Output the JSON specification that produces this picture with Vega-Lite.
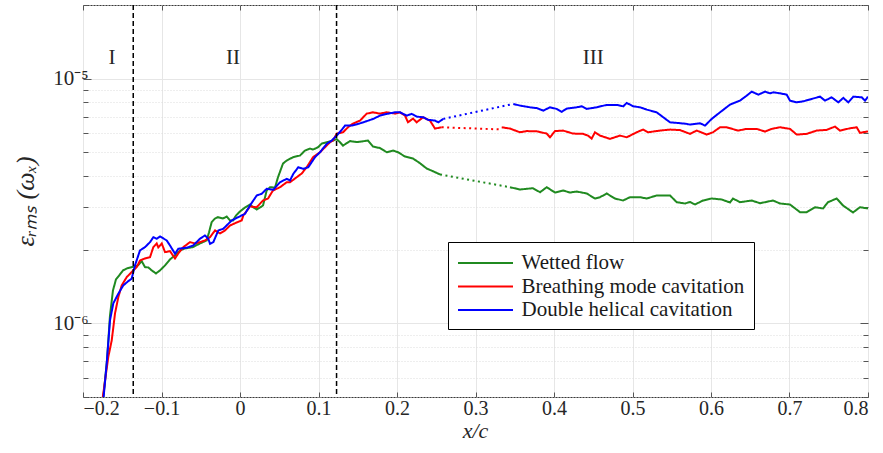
{
  "$schema": "https://vega.github.io/schema/vega-lite/v6.json",
  "width": 785,
  "height": 392,
  "autosize": {"type": "none"},
  "padding": {"left": 83, "top": 5, "right": 15, "bottom": 56},
  "background": "white",
  "config": {
    "font": "Liberation Serif, Times New Roman, Times, serif",
    "view": {"stroke": "#3a3a3a", "strokeWidth": 1},
    "axis": {"labelFont": "Liberation Serif, Times New Roman, Times, serif", "labelFontSize": 20, "labelColor": "#262626", "titleFont": "Liberation Serif, Times New Roman, Times, serif", "titleColor": "#262626", "domain": false, "tickColor": "#555555", "gridColor": "#e3e3e3", "gridWidth": 1},
    "legend": {"labelFont": "Liberation Serif, Times New Roman, Times, serif"},
    "text": {"font": "Liberation Serif, Times New Roman, Times, serif"}
  },
  "datasets": {
    "curves": [
      {"s":"Wetted flow","g":"W1","d":"solid","x":-0.1745,"y":4.85e-7},
      {"s":"Wetted flow","g":"W1","d":"solid","x":-0.1694,"y":7.06e-7},
      {"s":"Wetted flow","g":"W1","d":"solid","x":-0.1656,"y":1.078e-6},
      {"s":"Wetted flow","g":"W1","d":"solid","x":-0.1618,"y":1.364e-6},
      {"s":"Wetted flow","g":"W1","d":"solid","x":-0.158,"y":1.512e-6},
      {"s":"Wetted flow","g":"W1","d":"solid","x":-0.1529,"y":1.585e-6},
      {"s":"Wetted flow","g":"W1","d":"solid","x":-0.149,"y":1.646e-6},
      {"s":"Wetted flow","g":"W1","d":"solid","x":-0.1439,"y":1.677e-6},
      {"s":"Wetted flow","g":"W1","d":"solid","x":-0.1363,"y":1.701e-6},
      {"s":"Wetted flow","g":"W1","d":"solid","x":-0.1299,"y":1.725e-6},
      {"s":"Wetted flow","g":"W1","d":"solid","x":-0.1252,"y":1.796e-6},
      {"s":"Wetted flow","g":"W1","d":"solid","x":-0.121,"y":1.697e-6},
      {"s":"Wetted flow","g":"W1","d":"solid","x":-0.1168,"y":1.692e-6},
      {"s":"Wetted flow","g":"W1","d":"solid","x":-0.1125,"y":1.646e-6},
      {"s":"Wetted flow","g":"W1","d":"solid","x":-0.107,"y":1.6e-6},
      {"s":"Wetted flow","g":"W1","d":"solid","x":-0.1019,"y":1.646e-6},
      {"s":"Wetted flow","g":"W1","d":"solid","x":-0.0955,"y":1.725e-6},
      {"s":"Wetted flow","g":"W1","d":"solid","x":-0.0892,"y":1.825e-6},
      {"s":"Wetted flow","g":"W1","d":"solid","x":-0.0828,"y":1.895e-6},
      {"s":"Wetted flow","g":"W1","d":"solid","x":-0.0764,"y":1.986e-6},
      {"s":"Wetted flow","g":"W1","d":"solid","x":-0.0701,"y":2.024e-6},
      {"s":"Wetted flow","g":"W1","d":"solid","x":-0.0599,"y":2.049e-6},
      {"s":"Wetted flow","g":"W1","d":"solid","x":-0.051,"y":2.121e-6},
      {"s":"Wetted flow","g":"W1","d":"solid","x":-0.0424,"y":2.182e-6},
      {"s":"Wetted flow","g":"W1","d":"solid","x":-0.0395,"y":2.352e-6},
      {"s":"Wetted flow","g":"W1","d":"solid","x":-0.0361,"y":2.592e-6},
      {"s":"Wetted flow","g":"W1","d":"solid","x":-0.0318,"y":2.683e-6},
      {"s":"Wetted flow","g":"W1","d":"solid","x":-0.028,"y":2.716e-6},
      {"s":"Wetted flow","g":"W1","d":"solid","x":-0.0217,"y":2.683e-6},
      {"s":"Wetted flow","g":"W1","d":"solid","x":-0.0169,"y":2.733e-6},
      {"s":"Wetted flow","g":"W1","d":"solid","x":-0.0127,"y":2.633e-6},
      {"s":"Wetted flow","g":"W1","d":"solid","x":-0.0089,"y":2.633e-6},
      {"s":"Wetted flow","g":"W1","d":"solid","x":-0.0051,"y":2.759e-6},
      {"s":"Wetted flow","g":"W1","d":"solid","x":0.0,"y":2.865e-6},
      {"s":"Wetted flow","g":"W1","d":"solid","x":0.0064,"y":2.975e-6},
      {"s":"Wetted flow","g":"W1","d":"solid","x":0.0127,"y":3.06e-6},
      {"s":"Wetted flow","g":"W1","d":"solid","x":0.0166,"y":2.983e-6},
      {"s":"Wetted flow","g":"W1","d":"solid","x":0.0213,"y":2.92e-6},
      {"s":"Wetted flow","g":"W1","d":"solid","x":0.0255,"y":2.975e-6},
      {"s":"Wetted flow","g":"W1","d":"solid","x":0.0293,"y":3.031e-6},
      {"s":"Wetted flow","g":"W1","d":"solid","x":0.034,"y":3.491e-6},
      {"s":"Wetted flow","g":"W1","d":"solid","x":0.0382,"y":3.6e-6},
      {"s":"Wetted flow","g":"W1","d":"solid","x":0.0446,"y":3.59e-6},
      {"s":"Wetted flow","g":"W1","d":"solid","x":0.0484,"y":3.955e-6},
      {"s":"Wetted flow","g":"W1","d":"solid","x":0.0548,"y":4.5e-6},
      {"s":"Wetted flow","g":"W1","d":"solid","x":0.0595,"y":4.628e-6},
      {"s":"Wetted flow","g":"W1","d":"solid","x":0.0675,"y":4.774e-6},
      {"s":"Wetted flow","g":"W1","d":"solid","x":0.0764,"y":4.851e-6},
      {"s":"Wetted flow","g":"W1","d":"solid","x":0.0828,"y":5.084e-6},
      {"s":"Wetted flow","g":"W1","d":"solid","x":0.0892,"y":5.181e-6},
      {"s":"Wetted flow","g":"W1","d":"solid","x":0.093,"y":5.132e-6},
      {"s":"Wetted flow","g":"W1","d":"solid","x":0.0994,"y":5.244e-6},
      {"s":"Wetted flow","g":"W1","d":"solid","x":0.1041,"y":5.429e-6},
      {"s":"Wetted flow","g":"W1","d":"solid","x":0.1104,"y":5.496e-6},
      {"s":"Wetted flow","g":"W1","d":"solid","x":0.1185,"y":5.584e-6},
      {"s":"Wetted flow","g":"W1","d":"solid","x":0.1232,"y":5.664e-6},
      {"s":"Wetted flow","g":"W1","d":"solid","x":0.1274,"y":5.496e-6},
      {"s":"Wetted flow","g":"W1","d":"solid","x":0.1312,"y":5.327e-6},
      {"s":"Wetted flow","g":"W1","d":"solid","x":0.1401,"y":5.558e-6},
      {"s":"Wetted flow","g":"W1","d":"solid","x":0.1487,"y":5.506e-6},
      {"s":"Wetted flow","g":"W1","d":"solid","x":0.1567,"y":5.548e-6},
      {"s":"Wetted flow","g":"W1","d":"solid","x":0.1631,"y":5.584e-6},
      {"s":"Wetted flow","g":"W1","d":"solid","x":0.1694,"y":5.277e-6},
      {"s":"Wetted flow","g":"W1","d":"solid","x":0.1783,"y":5.205e-6},
      {"s":"Wetted flow","g":"W1","d":"solid","x":0.1869,"y":5.003e-6},
      {"s":"Wetted flow","g":"W1","d":"solid","x":0.1949,"y":5.084e-6},
      {"s":"Wetted flow","g":"W1","d":"solid","x":0.2013,"y":5.003e-6},
      {"s":"Wetted flow","g":"W1","d":"solid","x":0.2102,"y":4.805e-6},
      {"s":"Wetted flow","g":"W1","d":"solid","x":0.2204,"y":4.716e-6},
      {"s":"Wetted flow","g":"W1","d":"solid","x":0.2293,"y":4.512e-6},
      {"s":"Wetted flow","g":"W1","d":"solid","x":0.2378,"y":4.293e-6},
      {"s":"Wetted flow","g":"W1","d":"solid","x":0.2459,"y":4.185e-6},
      {"s":"Wetted flow","g":"W1","d":"solid","x":0.2548,"y":4.058e-6},
      {"s":"Wetted flow","g":"W2","d":"dotted","x":0.2548,"y":4.058e-6},
      {"s":"Wetted flow","g":"W2","d":"dotted","x":0.3439,"y":3.6e-6},
      {"s":"Wetted flow","g":"W3","d":"solid","x":0.3439,"y":3.6e-6},
      {"s":"Wetted flow","g":"W3","d":"solid","x":0.3567,"y":3.524e-6},
      {"s":"Wetted flow","g":"W3","d":"solid","x":0.3732,"y":3.567e-6},
      {"s":"Wetted flow","g":"W3","d":"solid","x":0.3822,"y":3.435e-6},
      {"s":"Wetted flow","g":"W3","d":"solid","x":0.3907,"y":3.6e-6},
      {"s":"Wetted flow","g":"W3","d":"solid","x":0.4013,"y":3.425e-6},
      {"s":"Wetted flow","g":"W3","d":"solid","x":0.4115,"y":3.491e-6},
      {"s":"Wetted flow","g":"W3","d":"solid","x":0.4204,"y":3.425e-6},
      {"s":"Wetted flow","g":"W3","d":"solid","x":0.4289,"y":3.458e-6},
      {"s":"Wetted flow","g":"W3","d":"solid","x":0.4417,"y":3.393e-6},
      {"s":"Wetted flow","g":"W3","d":"solid","x":0.4522,"y":3.237e-6},
      {"s":"Wetted flow","g":"W3","d":"solid","x":0.4586,"y":3.277e-6},
      {"s":"Wetted flow","g":"W3","d":"solid","x":0.4671,"y":3.393e-6},
      {"s":"Wetted flow","g":"W3","d":"solid","x":0.4777,"y":3.237e-6},
      {"s":"Wetted flow","g":"W3","d":"solid","x":0.4879,"y":3.177e-6},
      {"s":"Wetted flow","g":"W3","d":"solid","x":0.4968,"y":3.277e-6},
      {"s":"Wetted flow","g":"W3","d":"solid","x":0.5096,"y":3.277e-6},
      {"s":"Wetted flow","g":"W3","d":"solid","x":0.5181,"y":3.237e-6},
      {"s":"Wetted flow","g":"W3","d":"solid","x":0.5308,"y":3.331e-6},
      {"s":"Wetted flow","g":"W3","d":"solid","x":0.5478,"y":3.331e-6},
      {"s":"Wetted flow","g":"W3","d":"solid","x":0.5563,"y":3.127e-6},
      {"s":"Wetted flow","g":"W3","d":"solid","x":0.5669,"y":3.089e-6},
      {"s":"Wetted flow","g":"W3","d":"solid","x":0.5732,"y":3.133e-6},
      {"s":"Wetted flow","g":"W3","d":"solid","x":0.5796,"y":3.06e-6},
      {"s":"Wetted flow","g":"W3","d":"solid","x":0.5898,"y":3.177e-6},
      {"s":"Wetted flow","g":"W3","d":"solid","x":0.6009,"y":3.237e-6},
      {"s":"Wetted flow","g":"W3","d":"solid","x":0.6136,"y":3.207e-6},
      {"s":"Wetted flow","g":"W3","d":"solid","x":0.6242,"y":3.118e-6},
      {"s":"Wetted flow","g":"W3","d":"solid","x":0.628,"y":3.237e-6},
      {"s":"Wetted flow","g":"W3","d":"solid","x":0.6369,"y":3.127e-6},
      {"s":"Wetted flow","g":"W3","d":"solid","x":0.6518,"y":3.177e-6},
      {"s":"Wetted flow","g":"W3","d":"solid","x":0.6624,"y":3.097e-6},
      {"s":"Wetted flow","g":"W3","d":"solid","x":0.679,"y":3.177e-6},
      {"s":"Wetted flow","g":"W3","d":"solid","x":0.6879,"y":3.089e-6},
      {"s":"Wetted flow","g":"W3","d":"solid","x":0.7006,"y":3.06e-6},
      {"s":"Wetted flow","g":"W3","d":"solid","x":0.7134,"y":2.847e-6},
      {"s":"Wetted flow","g":"W3","d":"solid","x":0.7219,"y":2.847e-6},
      {"s":"Wetted flow","g":"W3","d":"solid","x":0.7325,"y":2.983e-6},
      {"s":"Wetted flow","g":"W3","d":"solid","x":0.7427,"y":2.947e-6},
      {"s":"Wetted flow","g":"W3","d":"solid","x":0.749,"y":3.127e-6},
      {"s":"Wetted flow","g":"W3","d":"solid","x":0.7601,"y":3.237e-6},
      {"s":"Wetted flow","g":"W3","d":"solid","x":0.7682,"y":3.031e-6},
      {"s":"Wetted flow","g":"W3","d":"solid","x":0.7809,"y":2.839e-6},
      {"s":"Wetted flow","g":"W3","d":"solid","x":0.7898,"y":2.983e-6},
      {"s":"Wetted flow","g":"W3","d":"solid","x":0.8,"y":2.947e-6},

      {"s":"Breathing mode cavitation","g":"B1","d":"solid","x":-0.1748,"y":4.99e-7},
      {"s":"Breathing mode cavitation","g":"B1","d":"solid","x":-0.1678,"y":7.29e-7},
      {"s":"Breathing mode cavitation","g":"B1","d":"solid","x":-0.1634,"y":8.52e-7},
      {"s":"Breathing mode cavitation","g":"B1","d":"solid","x":-0.1592,"y":1.099e-6},
      {"s":"Breathing mode cavitation","g":"B1","d":"solid","x":-0.155,"y":1.28e-6},
      {"s":"Breathing mode cavitation","g":"B1","d":"solid","x":-0.1507,"y":1.429e-6},
      {"s":"Breathing mode cavitation","g":"B1","d":"solid","x":-0.1443,"y":1.545e-6},
      {"s":"Breathing mode cavitation","g":"B1","d":"solid","x":-0.138,"y":1.62e-6},
      {"s":"Breathing mode cavitation","g":"B1","d":"solid","x":-0.1316,"y":1.697e-6},
      {"s":"Breathing mode cavitation","g":"B1","d":"solid","x":-0.1274,"y":1.807e-6},
      {"s":"Breathing mode cavitation","g":"B1","d":"solid","x":-0.121,"y":1.842e-6},
      {"s":"Breathing mode cavitation","g":"B1","d":"solid","x":-0.1146,"y":1.865e-6},
      {"s":"Breathing mode cavitation","g":"B1","d":"solid","x":-0.1104,"y":2.049e-6},
      {"s":"Breathing mode cavitation","g":"B1","d":"solid","x":-0.1061,"y":2.121e-6},
      {"s":"Breathing mode cavitation","g":"B1","d":"solid","x":-0.1041,"y":2.043e-6},
      {"s":"Breathing mode cavitation","g":"B1","d":"solid","x":-0.0997,"y":2.121e-6},
      {"s":"Breathing mode cavitation","g":"B1","d":"solid","x":-0.0955,"y":1.954e-6},
      {"s":"Breathing mode cavitation","g":"B1","d":"solid","x":-0.0892,"y":1.973e-6},
      {"s":"Breathing mode cavitation","g":"B1","d":"solid","x":-0.0828,"y":1.842e-6},
      {"s":"Breathing mode cavitation","g":"B1","d":"solid","x":-0.0786,"y":1.931e-6},
      {"s":"Breathing mode cavitation","g":"B1","d":"solid","x":-0.0722,"y":2.049e-6},
      {"s":"Breathing mode cavitation","g":"B1","d":"solid","x":-0.0637,"y":2.147e-6},
      {"s":"Breathing mode cavitation","g":"B1","d":"solid","x":-0.0573,"y":2.121e-6},
      {"s":"Breathing mode cavitation","g":"B1","d":"solid","x":-0.051,"y":2.147e-6},
      {"s":"Breathing mode cavitation","g":"B1","d":"solid","x":-0.0446,"y":2.182e-6},
      {"s":"Breathing mode cavitation","g":"B1","d":"solid","x":-0.0382,"y":2.25e-6},
      {"s":"Breathing mode cavitation","g":"B1","d":"solid","x":-0.0318,"y":2.397e-6},
      {"s":"Breathing mode cavitation","g":"B1","d":"solid","x":-0.0255,"y":2.33e-6},
      {"s":"Breathing mode cavitation","g":"B1","d":"solid","x":-0.0191,"y":2.397e-6},
      {"s":"Breathing mode cavitation","g":"B1","d":"solid","x":-0.0127,"y":2.512e-6},
      {"s":"Breathing mode cavitation","g":"B1","d":"solid","x":-0.0042,"y":2.584e-6},
      {"s":"Breathing mode cavitation","g":"B1","d":"solid","x":0.0022,"y":2.633e-6},
      {"s":"Breathing mode cavitation","g":"B1","d":"solid","x":0.0042,"y":2.759e-6},
      {"s":"Breathing mode cavitation","g":"B1","d":"solid","x":0.0127,"y":3.004e-6},
      {"s":"Breathing mode cavitation","g":"B1","d":"solid","x":0.0213,"y":2.983e-6},
      {"s":"Breathing mode cavitation","g":"B1","d":"solid","x":0.0293,"y":3.177e-6},
      {"s":"Breathing mode cavitation","g":"B1","d":"solid","x":0.0357,"y":3.237e-6},
      {"s":"Breathing mode cavitation","g":"B1","d":"solid","x":0.042,"y":3.491e-6},
      {"s":"Breathing mode cavitation","g":"B1","d":"solid","x":0.051,"y":3.6e-6},
      {"s":"Breathing mode cavitation","g":"B1","d":"solid","x":0.0595,"y":3.773e-6},
      {"s":"Breathing mode cavitation","g":"B1","d":"solid","x":0.0637,"y":3.773e-6},
      {"s":"Breathing mode cavitation","g":"B1","d":"solid","x":0.0722,"y":3.955e-6},
      {"s":"Breathing mode cavitation","g":"B1","d":"solid","x":0.0786,"y":4.096e-6},
      {"s":"Breathing mode cavitation","g":"B1","d":"solid","x":0.085,"y":4.345e-6},
      {"s":"Breathing mode cavitation","g":"B1","d":"solid","x":0.093,"y":4.774e-6},
      {"s":"Breathing mode cavitation","g":"B1","d":"solid","x":0.1019,"y":5.003e-6},
      {"s":"Breathing mode cavitation","g":"B1","d":"solid","x":0.1083,"y":5.244e-6},
      {"s":"Breathing mode cavitation","g":"B1","d":"solid","x":0.1146,"y":5.496e-6},
      {"s":"Breathing mode cavitation","g":"B1","d":"solid","x":0.1185,"y":5.584e-6},
      {"s":"Breathing mode cavitation","g":"B1","d":"solid","x":0.1232,"y":5.965e-6},
      {"s":"Breathing mode cavitation","g":"B1","d":"solid","x":0.1312,"y":6.038e-6},
      {"s":"Breathing mode cavitation","g":"B1","d":"solid","x":0.1376,"y":6.328e-6},
      {"s":"Breathing mode cavitation","g":"B1","d":"solid","x":0.1439,"y":6.552e-6},
      {"s":"Breathing mode cavitation","g":"B1","d":"solid","x":0.1529,"y":6.74e-6},
      {"s":"Breathing mode cavitation","g":"B1","d":"solid","x":0.1614,"y":7.196e-6},
      {"s":"Breathing mode cavitation","g":"B1","d":"solid","x":0.1694,"y":7.285e-6},
      {"s":"Breathing mode cavitation","g":"B1","d":"solid","x":0.1783,"y":7.196e-6},
      {"s":"Breathing mode cavitation","g":"B1","d":"solid","x":0.1869,"y":7.285e-6},
      {"s":"Breathing mode cavitation","g":"B1","d":"solid","x":0.1975,"y":7.196e-6},
      {"s":"Breathing mode cavitation","g":"B1","d":"solid","x":0.2038,"y":7.285e-6},
      {"s":"Breathing mode cavitation","g":"B1","d":"solid","x":0.2102,"y":7.063e-6},
      {"s":"Breathing mode cavitation","g":"B1","d":"solid","x":0.214,"y":6.632e-6},
      {"s":"Breathing mode cavitation","g":"B1","d":"solid","x":0.2204,"y":6.868e-6},
      {"s":"Breathing mode cavitation","g":"B1","d":"solid","x":0.2251,"y":6.632e-6},
      {"s":"Breathing mode cavitation","g":"B1","d":"solid","x":0.2331,"y":6.951e-6},
      {"s":"Breathing mode cavitation","g":"B1","d":"solid","x":0.242,"y":6.74e-6},
      {"s":"Breathing mode cavitation","g":"B1","d":"solid","x":0.2484,"y":6.251e-6},
      {"s":"Breathing mode cavitation","g":"B1","d":"solid","x":0.2569,"y":6.328e-6},
      {"s":"Breathing mode cavitation","g":"B2","d":"dotted","x":0.2569,"y":6.328e-6},
      {"s":"Breathing mode cavitation","g":"B2","d":"dotted","x":0.3334,"y":6.2e-6},
      {"s":"Breathing mode cavitation","g":"B3","d":"solid","x":0.3334,"y":6.328e-6},
      {"s":"Breathing mode cavitation","g":"B3","d":"solid","x":0.3439,"y":6.251e-6},
      {"s":"Breathing mode cavitation","g":"B3","d":"solid","x":0.3567,"y":6.038e-6},
      {"s":"Breathing mode cavitation","g":"B3","d":"solid","x":0.3652,"y":6.106e-6},
      {"s":"Breathing mode cavitation","g":"B3","d":"solid","x":0.378,"y":6.09e-6},
      {"s":"Breathing mode cavitation","g":"B3","d":"solid","x":0.3907,"y":5.965e-6},
      {"s":"Breathing mode cavitation","g":"B3","d":"solid","x":0.3949,"y":5.759e-6},
      {"s":"Breathing mode cavitation","g":"B3","d":"solid","x":0.4013,"y":6.106e-6},
      {"s":"Breathing mode cavitation","g":"B3","d":"solid","x":0.4115,"y":6.135e-6},
      {"s":"Breathing mode cavitation","g":"B3","d":"solid","x":0.4242,"y":5.965e-6},
      {"s":"Breathing mode cavitation","g":"B3","d":"solid","x":0.4369,"y":5.948e-6},
      {"s":"Breathing mode cavitation","g":"B3","d":"solid","x":0.4433,"y":5.853e-6},
      {"s":"Breathing mode cavitation","g":"B3","d":"solid","x":0.448,"y":5.69e-6},
      {"s":"Breathing mode cavitation","g":"B3","d":"solid","x":0.4522,"y":6.038e-6},
      {"s":"Breathing mode cavitation","g":"B3","d":"solid","x":0.4586,"y":5.853e-6},
      {"s":"Breathing mode cavitation","g":"B3","d":"solid","x":0.4713,"y":5.674e-6},
      {"s":"Breathing mode cavitation","g":"B3","d":"solid","x":0.4841,"y":5.853e-6},
      {"s":"Breathing mode cavitation","g":"B3","d":"solid","x":0.4926,"y":5.759e-6},
      {"s":"Breathing mode cavitation","g":"B3","d":"solid","x":0.5054,"y":6.038e-6},
      {"s":"Breathing mode cavitation","g":"B3","d":"solid","x":0.5134,"y":6.193e-6},
      {"s":"Breathing mode cavitation","g":"B3","d":"solid","x":0.5197,"y":6.038e-6},
      {"s":"Breathing mode cavitation","g":"B3","d":"solid","x":0.535,"y":6.135e-6},
      {"s":"Breathing mode cavitation","g":"B3","d":"solid","x":0.5478,"y":6.193e-6},
      {"s":"Breathing mode cavitation","g":"B3","d":"solid","x":0.5605,"y":6.164e-6},
      {"s":"Breathing mode cavitation","g":"B3","d":"solid","x":0.5732,"y":5.948e-6},
      {"s":"Breathing mode cavitation","g":"B3","d":"solid","x":0.5818,"y":6.135e-6},
      {"s":"Breathing mode cavitation","g":"B3","d":"solid","x":0.5945,"y":5.908e-6},
      {"s":"Breathing mode cavitation","g":"B3","d":"solid","x":0.6025,"y":6.038e-6},
      {"s":"Breathing mode cavitation","g":"B3","d":"solid","x":0.6115,"y":6.328e-6},
      {"s":"Breathing mode cavitation","g":"B3","d":"solid","x":0.62,"y":6.328e-6},
      {"s":"Breathing mode cavitation","g":"B3","d":"solid","x":0.6344,"y":6.135e-6},
      {"s":"Breathing mode cavitation","g":"B3","d":"solid","x":0.6455,"y":6.234e-6},
      {"s":"Breathing mode cavitation","g":"B3","d":"solid","x":0.6582,"y":6.234e-6},
      {"s":"Breathing mode cavitation","g":"B3","d":"solid","x":0.6688,"y":6.077e-6},
      {"s":"Breathing mode cavitation","g":"B3","d":"solid","x":0.6773,"y":6.234e-6},
      {"s":"Breathing mode cavitation","g":"B3","d":"solid","x":0.6879,"y":6.328e-6},
      {"s":"Breathing mode cavitation","g":"B3","d":"solid","x":0.7006,"y":6.234e-6},
      {"s":"Breathing mode cavitation","g":"B3","d":"solid","x":0.7092,"y":5.908e-6},
      {"s":"Breathing mode cavitation","g":"B3","d":"solid","x":0.7219,"y":5.948e-6},
      {"s":"Breathing mode cavitation","g":"B3","d":"solid","x":0.7346,"y":6.135e-6},
      {"s":"Breathing mode cavitation","g":"B3","d":"solid","x":0.7474,"y":6.175e-6},
      {"s":"Breathing mode cavitation","g":"B3","d":"solid","x":0.758,"y":6.37e-6},
      {"s":"Breathing mode cavitation","g":"B3","d":"solid","x":0.7643,"y":6.135e-6},
      {"s":"Breathing mode cavitation","g":"B3","d":"solid","x":0.7771,"y":6.269e-6},
      {"s":"Breathing mode cavitation","g":"B3","d":"solid","x":0.7856,"y":6.328e-6},
      {"s":"Breathing mode cavitation","g":"B3","d":"solid","x":0.7898,"y":6.004e-6},
      {"s":"Breathing mode cavitation","g":"B3","d":"solid","x":0.8,"y":6.09e-6},

      {"s":"Double helical cavitation","g":"D1","d":"solid","x":-0.1741,"y":4.85e-7},
      {"s":"Double helical cavitation","g":"D1","d":"solid","x":-0.1698,"y":6.87e-7},
      {"s":"Double helical cavitation","g":"D1","d":"solid","x":-0.1656,"y":1.029e-6},
      {"s":"Double helical cavitation","g":"D1","d":"solid","x":-0.1614,"y":1.207e-6},
      {"s":"Double helical cavitation","g":"D1","d":"solid","x":-0.155,"y":1.322e-6},
      {"s":"Double helical cavitation","g":"D1","d":"solid","x":-0.1487,"y":1.429e-6},
      {"s":"Double helical cavitation","g":"D1","d":"solid","x":-0.1423,"y":1.488e-6},
      {"s":"Double helical cavitation","g":"D1","d":"solid","x":-0.138,"y":1.522e-6},
      {"s":"Double helical cavitation","g":"D1","d":"solid","x":-0.1338,"y":1.725e-6},
      {"s":"Double helical cavitation","g":"D1","d":"solid","x":-0.1274,"y":1.986e-6},
      {"s":"Double helical cavitation","g":"D1","d":"solid","x":-0.121,"y":2.049e-6},
      {"s":"Double helical cavitation","g":"D1","d":"solid","x":-0.1146,"y":2.147e-6},
      {"s":"Double helical cavitation","g":"D1","d":"solid","x":-0.1104,"y":2.25e-6},
      {"s":"Double helical cavitation","g":"D1","d":"solid","x":-0.1061,"y":2.217e-6},
      {"s":"Double helical cavitation","g":"D1","d":"solid","x":-0.1019,"y":2.265e-6},
      {"s":"Double helical cavitation","g":"D1","d":"solid","x":-0.0934,"y":2.182e-6},
      {"s":"Double helical cavitation","g":"D1","d":"solid","x":-0.0892,"y":2.082e-6},
      {"s":"Double helical cavitation","g":"D1","d":"solid","x":-0.0828,"y":1.925e-6},
      {"s":"Double helical cavitation","g":"D1","d":"solid","x":-0.0786,"y":2.018e-6},
      {"s":"Double helical cavitation","g":"D1","d":"solid","x":-0.0679,"y":2.037e-6},
      {"s":"Double helical cavitation","g":"D1","d":"solid","x":-0.0595,"y":2.082e-6},
      {"s":"Double helical cavitation","g":"D1","d":"solid","x":-0.051,"y":2.217e-6},
      {"s":"Double helical cavitation","g":"D1","d":"solid","x":-0.0446,"y":2.287e-6},
      {"s":"Double helical cavitation","g":"D1","d":"solid","x":-0.0404,"y":2.217e-6},
      {"s":"Double helical cavitation","g":"D1","d":"solid","x":-0.0382,"y":2.115e-6},
      {"s":"Double helical cavitation","g":"D1","d":"solid","x":-0.034,"y":2.147e-6},
      {"s":"Double helical cavitation","g":"D1","d":"solid","x":-0.0276,"y":2.397e-6},
      {"s":"Double helical cavitation","g":"D1","d":"solid","x":-0.0213,"y":2.435e-6},
      {"s":"Double helical cavitation","g":"D1","d":"solid","x":-0.0106,"y":2.633e-6},
      {"s":"Double helical cavitation","g":"D1","d":"solid","x":-0.0022,"y":2.716e-6},
      {"s":"Double helical cavitation","g":"D1","d":"solid","x":0.0064,"y":2.804e-6},
      {"s":"Double helical cavitation","g":"D1","d":"solid","x":0.0127,"y":3.031e-6},
      {"s":"Double helical cavitation","g":"D1","d":"solid","x":0.0213,"y":3.331e-6},
      {"s":"Double helical cavitation","g":"D1","d":"solid","x":0.0276,"y":3.384e-6},
      {"s":"Double helical cavitation","g":"D1","d":"solid","x":0.034,"y":3.547e-6},
      {"s":"Double helical cavitation","g":"D1","d":"solid","x":0.0424,"y":3.514e-6},
      {"s":"Double helical cavitation","g":"D1","d":"solid","x":0.051,"y":3.773e-6},
      {"s":"Double helical cavitation","g":"D1","d":"solid","x":0.0595,"y":3.896e-6},
      {"s":"Double helical cavitation","g":"D1","d":"solid","x":0.0637,"y":3.834e-6},
      {"s":"Double helical cavitation","g":"D1","d":"solid","x":0.0679,"y":4.083e-6},
      {"s":"Double helical cavitation","g":"D1","d":"solid","x":0.0743,"y":4.345e-6},
      {"s":"Double helical cavitation","g":"D1","d":"solid","x":0.0806,"y":4.28e-6},
      {"s":"Double helical cavitation","g":"D1","d":"solid","x":0.087,"y":4.345e-6},
      {"s":"Double helical cavitation","g":"D1","d":"solid","x":0.0955,"y":4.774e-6},
      {"s":"Double helical cavitation","g":"D1","d":"solid","x":0.1019,"y":5.003e-6},
      {"s":"Double helical cavitation","g":"D1","d":"solid","x":0.1104,"y":5.414e-6},
      {"s":"Double helical cavitation","g":"D1","d":"solid","x":0.1168,"y":5.584e-6},
      {"s":"Double helical cavitation","g":"D1","d":"solid","x":0.1232,"y":5.853e-6},
      {"s":"Double helical cavitation","g":"D1","d":"solid","x":0.1296,"y":6.174e-6},
      {"s":"Double helical cavitation","g":"D1","d":"solid","x":0.1338,"y":6.43e-6},
      {"s":"Double helical cavitation","g":"D1","d":"solid","x":0.1423,"y":6.43e-6},
      {"s":"Double helical cavitation","g":"D1","d":"solid","x":0.1507,"y":6.534e-6},
      {"s":"Double helical cavitation","g":"D1","d":"solid","x":0.1571,"y":6.632e-6},
      {"s":"Double helical cavitation","g":"D1","d":"solid","x":0.1698,"y":6.849e-6},
      {"s":"Double helical cavitation","g":"D1","d":"solid","x":0.1783,"y":7.063e-6},
      {"s":"Double helical cavitation","g":"D1","d":"solid","x":0.1869,"y":7.177e-6},
      {"s":"Double helical cavitation","g":"D1","d":"solid","x":0.1975,"y":7.285e-6},
      {"s":"Double helical cavitation","g":"D1","d":"solid","x":0.2038,"y":7.285e-6},
      {"s":"Double helical cavitation","g":"D1","d":"solid","x":0.2124,"y":7.063e-6},
      {"s":"Double helical cavitation","g":"D1","d":"solid","x":0.2187,"y":7.177e-6},
      {"s":"Double helical cavitation","g":"D1","d":"solid","x":0.2251,"y":6.997e-6},
      {"s":"Double helical cavitation","g":"D1","d":"solid","x":0.2335,"y":6.951e-6},
      {"s":"Double helical cavitation","g":"D1","d":"solid","x":0.2399,"y":6.785e-6},
      {"s":"Double helical cavitation","g":"D1","d":"solid","x":0.2484,"y":6.74e-6},
      {"s":"Double helical cavitation","g":"D1","d":"solid","x":0.2526,"y":6.632e-6},
      {"s":"Double helical cavitation","g":"D1","d":"solid","x":0.259,"y":6.849e-6},
      {"s":"Double helical cavitation","g":"D2","d":"dotted","x":0.259,"y":6.849e-6},
      {"s":"Double helical cavitation","g":"D2","d":"dotted","x":0.3482,"y":7.884e-6},
      {"s":"Double helical cavitation","g":"D3","d":"solid","x":0.3482,"y":7.884e-6},
      {"s":"Double helical cavitation","g":"D3","d":"solid","x":0.3567,"y":7.76e-6},
      {"s":"Double helical cavitation","g":"D3","d":"solid","x":0.3694,"y":7.638e-6},
      {"s":"Double helical cavitation","g":"D3","d":"solid","x":0.378,"y":7.58e-6},
      {"s":"Double helical cavitation","g":"D3","d":"solid","x":0.3864,"y":7.404e-6},
      {"s":"Double helical cavitation","g":"D3","d":"solid","x":0.3949,"y":7.638e-6},
      {"s":"Double helical cavitation","g":"D3","d":"solid","x":0.4034,"y":7.523e-6},
      {"s":"Double helical cavitation","g":"D3","d":"solid","x":0.4098,"y":7.32e-6},
      {"s":"Double helical cavitation","g":"D3","d":"solid","x":0.4162,"y":7.545e-6},
      {"s":"Double helical cavitation","g":"D3","d":"solid","x":0.4289,"y":7.638e-6},
      {"s":"Double helical cavitation","g":"D3","d":"solid","x":0.4353,"y":7.708e-6},
      {"s":"Double helical cavitation","g":"D3","d":"solid","x":0.4417,"y":7.523e-6},
      {"s":"Double helical cavitation","g":"D3","d":"solid","x":0.4544,"y":7.638e-6},
      {"s":"Double helical cavitation","g":"D3","d":"solid","x":0.4671,"y":7.811e-6},
      {"s":"Double helical cavitation","g":"D3","d":"solid","x":0.4799,"y":7.811e-6},
      {"s":"Double helical cavitation","g":"D3","d":"solid","x":0.4883,"y":7.708e-6},
      {"s":"Double helical cavitation","g":"D3","d":"solid","x":0.4926,"y":7.958e-6},
      {"s":"Double helical cavitation","g":"D3","d":"solid","x":0.5011,"y":7.708e-6},
      {"s":"Double helical cavitation","g":"D3","d":"solid","x":0.5096,"y":7.638e-6},
      {"s":"Double helical cavitation","g":"D3","d":"solid","x":0.5181,"y":7.475e-6},
      {"s":"Double helical cavitation","g":"D3","d":"solid","x":0.5308,"y":7.285e-6},
      {"s":"Double helical cavitation","g":"D3","d":"solid","x":0.5392,"y":6.951e-6},
      {"s":"Double helical cavitation","g":"D3","d":"solid","x":0.5478,"y":6.632e-6},
      {"s":"Double helical cavitation","g":"D3","d":"solid","x":0.5563,"y":6.596e-6},
      {"s":"Double helical cavitation","g":"D3","d":"solid","x":0.569,"y":6.534e-6},
      {"s":"Double helical cavitation","g":"D3","d":"solid","x":0.5732,"y":6.491e-6},
      {"s":"Double helical cavitation","g":"D3","d":"solid","x":0.586,"y":6.572e-6},
      {"s":"Double helical cavitation","g":"D3","d":"solid","x":0.5924,"y":6.43e-6},
      {"s":"Double helical cavitation","g":"D3","d":"solid","x":0.6009,"y":6.849e-6},
      {"s":"Double helical cavitation","g":"D3","d":"solid","x":0.6115,"y":7.285e-6},
      {"s":"Double helical cavitation","g":"D3","d":"solid","x":0.6242,"y":7.833e-6},
      {"s":"Double helical cavitation","g":"D3","d":"solid","x":0.6369,"y":8.132e-6},
      {"s":"Double helical cavitation","g":"D3","d":"solid","x":0.6455,"y":8.522e-6},
      {"s":"Double helical cavitation","g":"D3","d":"solid","x":0.6518,"y":8.849e-6},
      {"s":"Double helical cavitation","g":"D3","d":"solid","x":0.6603,"y":8.604e-6},
      {"s":"Double helical cavitation","g":"D3","d":"solid","x":0.6688,"y":8.849e-6},
      {"s":"Double helical cavitation","g":"D3","d":"solid","x":0.6752,"y":8.711e-6},
      {"s":"Double helical cavitation","g":"D3","d":"solid","x":0.6794,"y":8.794e-6},
      {"s":"Double helical cavitation","g":"D3","d":"solid","x":0.6879,"y":8.711e-6},
      {"s":"Double helical cavitation","g":"D3","d":"solid","x":0.6964,"y":8.604e-6},
      {"s":"Double helical cavitation","g":"D3","d":"solid","x":0.7006,"y":8.132e-6},
      {"s":"Double helical cavitation","g":"D3","d":"solid","x":0.7092,"y":8.004e-6},
      {"s":"Double helical cavitation","g":"D3","d":"solid","x":0.7176,"y":8.079e-6},
      {"s":"Double helical cavitation","g":"D3","d":"solid","x":0.7283,"y":8.263e-6},
      {"s":"Double helical cavitation","g":"D3","d":"solid","x":0.7389,"y":8.444e-6},
      {"s":"Double helical cavitation","g":"D3","d":"solid","x":0.7452,"y":8.132e-6},
      {"s":"Double helical cavitation","g":"D3","d":"solid","x":0.7537,"y":8.389e-6},
      {"s":"Double helical cavitation","g":"D3","d":"solid","x":0.7622,"y":8.004e-6},
      {"s":"Double helical cavitation","g":"D3","d":"solid","x":0.7685,"y":8.341e-6},
      {"s":"Double helical cavitation","g":"D3","d":"solid","x":0.7749,"y":8.004e-6},
      {"s":"Double helical cavitation","g":"D3","d":"solid","x":0.7813,"y":8.444e-6},
      {"s":"Double helical cavitation","g":"D3","d":"solid","x":0.792,"y":8.389e-6},
      {"s":"Double helical cavitation","g":"D3","d":"solid","x":0.7962,"y":8.132e-6},
      {"s":"Double helical cavitation","g":"D3","d":"solid","x":0.8,"y":8.444e-6}
    ],
    "bounds": [{"x": -0.136}, {"x": 0.123}],
    "regions": [
      {"label": "I", "x": -0.163, "y": 1.22e-5},
      {"label": "II", "x": -0.009, "y": 1.22e-5},
      {"label": "III", "x": 0.45, "y": 1.22e-5}
    ]
  },
  "layer": [
    {
      "data": {"name": "curves"},
      "mark": {"type": "line", "strokeWidth": 2, "clip": true, "strokeCap": "butt"},
      "encoding": {
        "x": {
          "field": "x", "type": "quantitative",
          "scale": {"domain": [-0.2, 0.8], "nice": false, "zero": false},
          "axis": {
            "values": [-0.2, -0.1, 0, 0.1, 0.2, 0.3, 0.4, 0.5, 0.6, 0.7, 0.8],
            "format": ".1~f",
            "tickSize": -5,
            "labelPadding": 6,
            "gridColor": "#e6e6e6",
            "title": "x/c",
            "titleFontSize": 22,
            "titleFontStyle": "italic",
            "titleFontWeight": "normal",
            "titleX": 392,
            "titleY": 33,
            "titleBaseline": "middle"
          }
        },
        "y": {
          "field": "y", "type": "quantitative",
          "scale": {"type": "log", "domain": [5e-7, 2e-5], "nice": false},
          "axis": {
            "values": [5e-7, 6e-7, 7e-7, 8e-7, 9e-7, 1e-6, 2e-6, 3e-6, 4e-6, 5e-6, 6e-6, 7e-6, 8e-6, 9e-6, 1e-5, 2e-5],
            "labelExpr": "datum.value == 1e-5 ? '10⁻⁵' : datum.value == 1e-6 ? '10⁻⁶' : ''",
            "tickSize": {"condition": {"test": "datum.value == 1e-5 || datum.value == 1e-6", "value": -8}, "value": -5},
            "gridDash": {"condition": {"test": "datum.value == 1e-5 || datum.value == 1e-6", "value": []}, "value": [1, 2]},
            "gridColor": {"condition": {"test": "datum.value == 1e-5 || datum.value == 1e-6", "value": "#e6e6e6"}, "value": "#dddddd"},
            "labelPadding": 3,
            "labelFontSize": 21,
            "title": "εᵣₘₛ (ωₓ)",
            "titleFontSize": 26,
            "titleFontStyle": "italic",
            "titleFontWeight": "normal",
            "titleX": -58,
            "titleY": 196,
            "titleAngle": -90,
            "titleBaseline": "middle",
            "titleAlign": "center"
          }
        },
        "color": {
          "field": "s", "type": "nominal",
          "scale": {"domain": ["Wetted flow", "Breathing mode cavitation", "Double helical cavitation"], "range": ["#208a20", "#ff0000", "#0000ff"]},
          "legend": {
            "orient": "none", "legendX": 365, "legendY": 237, "title": null,
            "symbolType": "M-2.5,0H2.5", "symbolStrokeWidth": 2, "symbolSize": 484,
            "symbolOffset": 16.5,
            "labelFontSize": 21, "labelColor": "#1a1a1a", "labelLimit": 500,
            "labelOffset": 24, "strokeColor": "#000000", "fillColor": "#ffffff",
            "padding": 9, "rowPadding": 1.5
          }
        },
        "detail": {"field": "g", "type": "nominal"},
        "strokeDash": {
          "field": "d", "type": "nominal",
          "scale": {"domain": ["solid", "dotted"], "range": [[1, 0], [2, 3.5]]},
          "legend": null
        }
      }
    },
    {
      "data": {"name": "bounds"},
      "mark": {"type": "rule", "color": "#000000", "strokeWidth": 1.5, "strokeDash": [5, 3]},
      "encoding": {
        "x": {"field": "x", "type": "quantitative", "scale": {"domain": [-0.2, 0.8], "nice": false, "zero": false}, "axis": null}
      }
    },
    {
      "data": {"name": "regions"},
      "mark": {"type": "text", "fontSize": 21, "color": "#262626", "baseline": "middle", "align": "center"},
      "encoding": {
        "x": {"field": "x", "type": "quantitative", "scale": {"domain": [-0.2, 0.8], "nice": false, "zero": false},
          "axis": {"orient": "top", "values": [-0.2, -0.1, 0, 0.1, 0.2, 0.3, 0.4, 0.5, 0.6, 0.7, 0.8], "labels": false, "grid": false, "tickSize": -5, "title": null}},
        "y": {"field": "y", "type": "quantitative", "scale": {"type": "log", "domain": [5e-7, 2e-5], "nice": false},
          "axis": {"orient": "right", "values": [5e-7, 6e-7, 7e-7, 8e-7, 9e-7, 1e-6, 2e-6, 3e-6, 4e-6, 5e-6, 6e-6, 7e-6, 8e-6, 9e-6, 1e-5, 2e-5], "labels": false, "grid": false, "tickSize": {"condition": {"test": "datum.value == 1e-5 || datum.value == 1e-6", "value": -8}, "value": -5}, "title": null}},
        "text": {"field": "label", "type": "nominal"}
      }
    }
  ],
  "resolve": {"axis": {"x": "independent", "y": "independent"}}
}
